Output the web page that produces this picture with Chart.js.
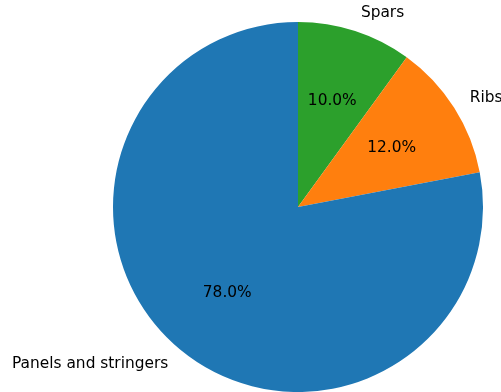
<!DOCTYPE html>
<html>
<head>
<meta charset="utf-8">
<script src="https://cdn.jsdelivr.net/npm/chart.js@4/dist/chart.umd.min.js"></script>
<style>
  html, body { margin: 0; padding: 0; background: #fff; }
  #wrap { width: 501px; height: 392px; }
</style>
</head>
<body>
<div id="wrap"><canvas id="pieChart"></canvas></div>
<script>
// drawn clockwise from the top, so the order is reversed
var labels = ['Spars', 'Ribs', 'Panels and stringers'];
var shares = [10, 12, 78];
var colors = ['#2ca02c', '#ff7f0e', '#1f77b4'];

var sliceText = {
    id: 'sliceText',
    afterDraw: function (chart) {
        var ctx = chart.ctx;
        var arcs = chart.getDatasetMeta(0).data;
        var total = shares.reduce(function (a, b) { return a + b; }, 0);
        ctx.save();
        ctx.font = '15.4px "DejaVu Sans"';
        ctx.fillStyle = '#000';
        ctx.textBaseline = 'middle';
        arcs.forEach(function (arc, i) {
            var mid = (arc.startAngle + arc.endAngle) / 2;
            var r = arc.outerRadius;
            var cx = Math.cos(mid), cy = Math.sin(mid);
            // outer label
            ctx.textAlign = cx > 0 ? 'left' : 'right';
            ctx.fillText(labels[i], arc.x + 1.1 * r * cx, arc.y + 1.1 * r * cy);
            // percentage
            ctx.textAlign = 'center';
            ctx.fillText((shares[i] / total * 100).toFixed(1) + '%', arc.x + 0.6 * r * cx, arc.y + 0.6 * r * cy);
        });
        ctx.restore();
    }
};

var ctx = document.getElementById('pieChart');
var pieChart = new Chart(ctx, {
    type: 'pie',
    data: {
        labels: labels,
        datasets: [{
            data: shares,
            backgroundColor: colors,
            borderWidth: 0
        }]
    },
    options: {
        responsive: true,
        maintainAspectRatio: false,
        animation: false,
        layout: { padding: { left: 113, right: 18, top: 22, bottom: 0 } },
        plugins: {
            legend: { display: false },
            tooltip: { enabled: false }
        }
    },
    plugins: [sliceText]
});
</script>
</body>
</html>
